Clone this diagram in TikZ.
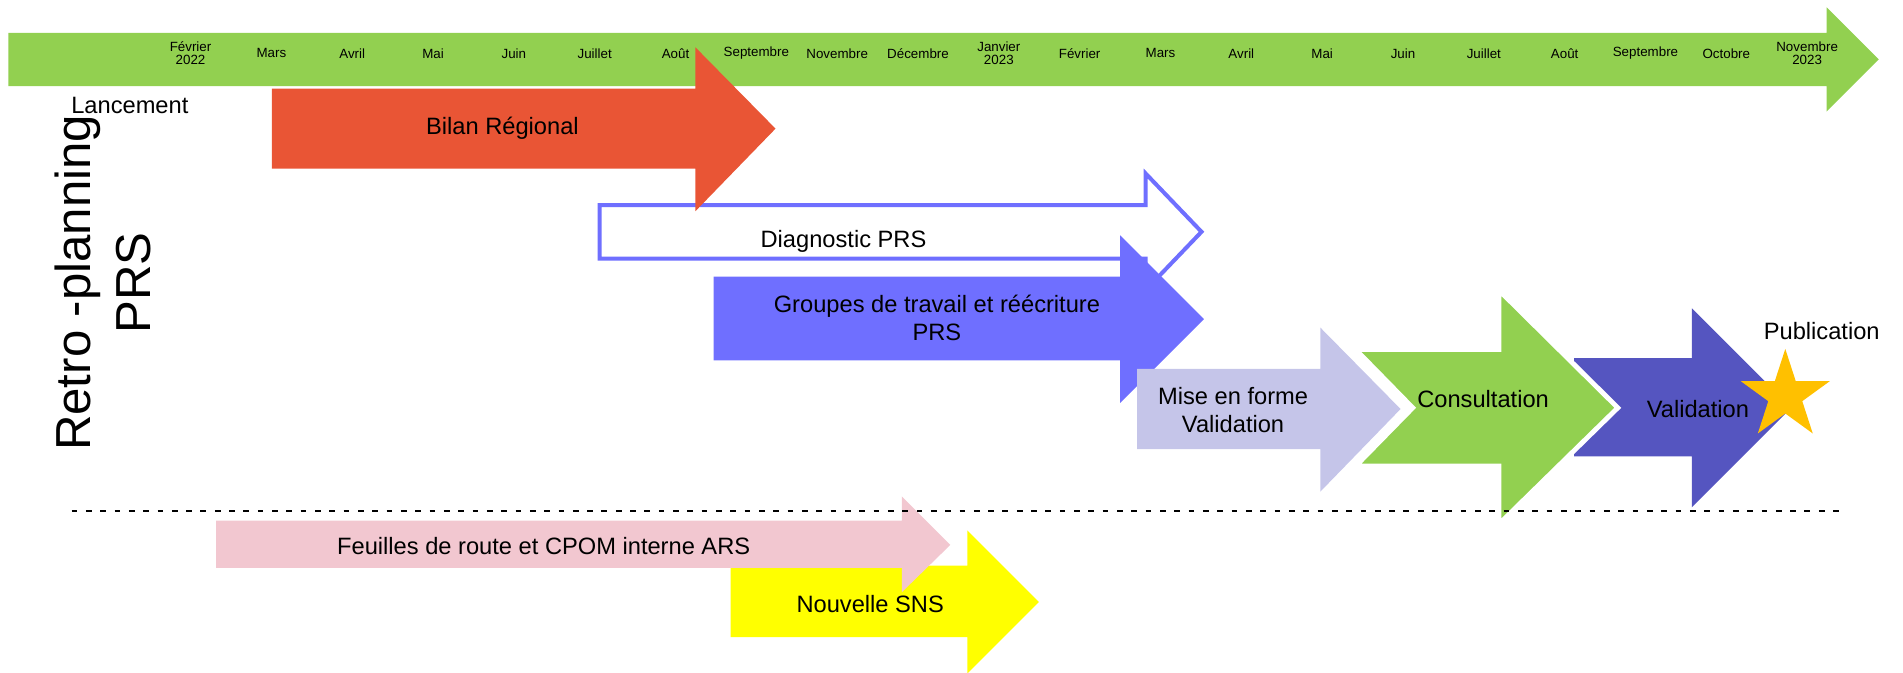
\documentclass[tikz,border=0pt]{standalone}
\usepackage{fontspec}
\setmainfont{Liberation Sans}
\usetikzlibrary{shapes.geometric}
\definecolor{timegreen}{HTML}{92D050}
\definecolor{bilanred}{HTML}{E95535}
\definecolor{prsblue}{HTML}{6F6FFF}
\definecolor{miselilac}{HTML}{C5C5E9}
\definecolor{validblue}{HTML}{5555C0}
\definecolor{stargold}{HTML}{FFC000}
\definecolor{feuillepink}{HTML}{F2C7D0}
\definecolor{snsyellow}{HTML}{FFFF00}
\tikzset{
    timeline/.style={fill=timegreen},
    monthtxt/.style={font=\fontsize{11}{11}\selectfont, align=center, inner sep=0pt},
    phasetxt/.style={font=\fontsize{19.5}{23}\selectfont, align=center, inner sep=0pt},
    bilan/.style={fill=bilanred},
    diagnostic/.style={draw=prsblue, fill=white, line width=3.3pt},
    groupes/.style={fill=prsblue},
    miseforme/.style={fill=miselilac},
    consult/.style={fill=timegreen, draw=white, line width=4pt},
    validation/.style={fill=validblue},
    publistar/.style={star, star points=5, star point ratio=2.618, minimum size=77pt, inner sep=0pt, fill=stargold},
    feuilles/.style={fill=feuillepink},
    sns/.style={fill=snsyellow},
    separation/.style={dash pattern=on 4.7pt off 7.1pt, line width=1.6pt, draw=black},
}

\begin{document}
\begin{tikzpicture}[x=1pt,y=-1pt]
    \useasboundingbox (0,0) rectangle (1568,554);
    % The timeline on top
    \fill[timeline] (7,27) -- (1505,27) -- (1505,6) -- (1548,49) -- (1505,92) -- (1505,71) -- (7,71) -- cycle;
    \foreach \mois [count=\i from 0] in {{Février\\2022},Mars,Avril,Mai,Juin,Juillet,Août,Septembre,Novembre,Décembre,{Janvier\\2023},Février,Mars,Avril,Mai,Juin,Juillet,Août,Septembre,Octobre,{Novembre\\2023}}
        \node[monthtxt] (m\i) at (157+66.6*\i,44) {\mois};
    % Title and start
    \node[phasetxt] (lancement) at (107,87) {Lancement};
    \node[rotate=90, font=\fontsize{40.5}{49}\selectfont, align=center, inner sep=0pt] (titre) at (85,233) {Retro -planning\\PRS};
    % Diagnostic (outlined) and Bilan
    \draw[diagnostic] (494,169) -- (944,169) -- (944,143) -- (990,191) -- (944,239) -- (944,213) -- (494,213) -- cycle;
    \node[phasetxt] (diag) at (695,199) {Diagnostic PRS};
    \fill[bilan] (224,73) -- (573,73) -- (573,39) -- (639,106) -- (573,174) -- (573,139) -- (224,139) -- cycle;
    \node[phasetxt] (bilantxt) at (414,106) {Bilan Régional};
    % Groupes de travail
    \fill[groupes] (588,228) -- (923,228) -- (923,194) -- (992,263) -- (923,332) -- (923,297) -- (588,297) -- cycle;
    \node[phasetxt] (groupestxt) at (772,262) {Groupes de travail et réécriture\\PRS};
    % Mise en forme, validation, consultation
    \fill[miseforme] (937,304) -- (1088,304) -- (1088,270) -- (1154,337) -- (1088,405) -- (1088,370) -- (937,370) -- cycle;
    \node[phasetxt] (misetxt) at (1016,338) {Mise en forme\\Validation};
    \fill[validation] (1297,295) -- (1394,295) -- (1394,254) -- (1476,336) -- (1394,418) -- (1394,376) -- (1297,376) -- cycle;
    \node[phasetxt] (validtxt) at (1399,337) {Validation};
    \filldraw[consult] (1117,288) -- (1235,288) -- (1235,239) -- (1333,336) -- (1235,432) -- (1235,384) -- (1117,384) -- (1164,336) -- cycle;
    \node[phasetxt] (consulttxt) at (1222,329) {Consultation};
    % Publication
    \node[publistar] (etoile) at (1471,326) {};
    \node[phasetxt] (publitxt) at (1501,273) {Publication};
    % Lower part: SNS and feuilles de route
    \fill[sns] (602,466) -- (797,466) -- (797,437) -- (856,496) -- (797,555) -- (797,525) -- (602,525) -- cycle;
    \node[phasetxt] (snstxt) at (717,498) {Nouvelle SNS};
    \fill[feuilles] (178,429) -- (743,429) -- (743,409) -- (783,449) -- (743,488) -- (743,468) -- (178,468) -- cycle;
    \node[phasetxt] (feuillestxt) at (448,450) {Feuilles de route et CPOM interne ARS};
    % Separation line
    \coordinate (sepL) at (59,421);
    \coordinate (sepR) at (1522,421);
    \draw[separation] (sepL) -- (sepR);
\end{tikzpicture}
\end{document}
